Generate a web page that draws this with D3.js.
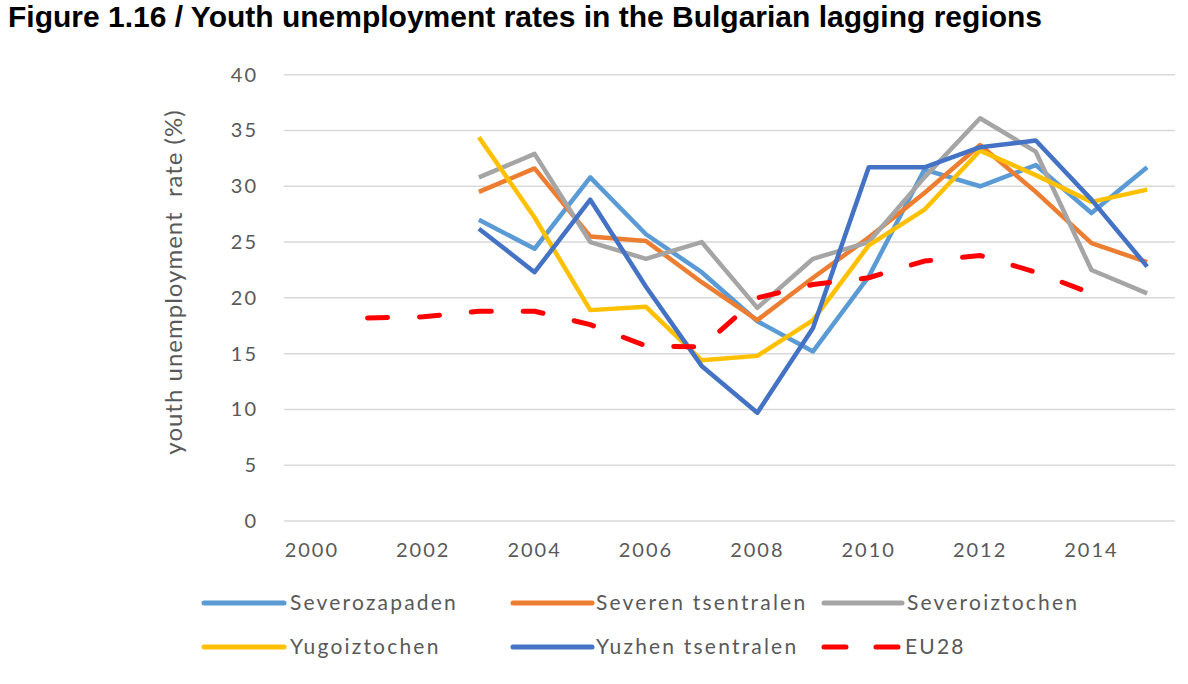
<!DOCTYPE html>
<meta charset="utf-8">
<style>
body { margin: 0; background: #fff; }
.tick text { fill: #595959; }
</style>
<body>
<script src="https://cdn.jsdelivr.net/npm/d3@7"></script>
<script>

// data (null = no value)
var years = d3.range(2000, 2016);
var tickYears = [2000, 2002, 2004, 2006, 2008, 2010, 2012, 2014];
var yTicks = [0, 5, 10, 15, 20, 25, 30, 35, 40];

var severozapaden      = [null, null, null, 27.0, 24.4, 30.8, 25.7, 22.3, 17.9, 15.2, 21.9, 31.5, 30.0, 31.9, 27.6, 31.7];
var severenTsentralen  = [null, null, null, 29.5, 31.6, 25.5, 25.1, 21.4, 18.0, 21.8, 25.4, 29.4, 33.7, 29.5, 24.9, 23.2];
var severoiztochen     = [null, null, null, 30.8, 32.9, 25.0, 23.5, 25.0, 19.1, 23.5, 25.0, 30.8, 36.1, 33.1, 22.5, 20.4];
var yugoiztochen       = [null, null, null, 34.4, 27.2, 18.9, 19.2, 14.4, 14.8, 18.0, 24.7, 27.9, 33.2, 31.0, 28.6, 29.7];
var yuzhenTsentralen   = [null, null, null, 26.2, 22.3, 28.8, 21.0, 13.9, 9.7, 17.3, 31.7, 31.7, 33.5, 34.1, 28.8, 22.8];
var eu28               = [null, 18.2, 18.3, 18.8, 18.8, 17.6, 15.7, 15.6, 20.0, 21.2, 21.8, 23.3, 23.8, 22.3, 20.4, null];

var seriesNames  = ["Severozapaden", "Severen tsentralen", "Severoiztochen", "Yugoiztochen", "Yuzhen tsentralen", "EU28"];
var seriesValues = [severozapaden, severenTsentralen, severoiztochen, yugoiztochen, yuzhenTsentralen, eu28];
var colors = ["#5B9BD5", "#ED7D31", "#A5A5A5", "#FFC000", "#4472C4", "#FF0000"];

var W = 1188, H = 684;
var svg = d3.select("body").append("svg").attr("width", W).attr("height", H);

svg.append("text")
    .attr("x", 8).attr("y", 27)
    .style("font-family", "Liberation Sans, Arial, sans-serif")
    .style("font-weight", "bold")
    .style("font-size", "30px")
    .text("Figure 1.16 / Youth unemployment rates in the Bulgarian lagging regions");

var x = d3.scaleBand().domain(years).range([284, 1175]);
var y = d3.scaleLinear().domain([0, 40]).range([521, 74.7]);

// grid
svg.append("g").selectAll("line")
    .data(yTicks).enter().append("line")
    .attr("x1", 284).attr("x2", 1175)
    .attr("y1", function(d) { return y(d); })
    .attr("y2", function(d) { return y(d); })
    .attr("stroke", "#d9d9d9")
    .attr("stroke-width", 1.5);

var font = "Lato, 'Open Sans', sans-serif";

// y axis
var yAxis = svg.append("g")
    .attr("transform", "translate(284,0)")
    .call(d3.axisLeft(y).tickValues(yTicks).tickSize(0).tickPadding(26));
yAxis.select(".domain").remove();
yAxis.selectAll("text").style("font-family", font).style("font-size", "20px").style("letter-spacing", "2px");

// x axis
var xAxis = svg.append("g")
    .attr("transform", "translate(0,521)")
    .call(d3.axisBottom(x).tickValues(tickYears).tickSize(0).tickPadding(22));
xAxis.select(".domain").remove();
xAxis.selectAll("text").style("font-family", font).style("font-size", "20px").style("letter-spacing", "2px");

svg.append("text")
    .attr("transform", "translate(182,282) rotate(-90)")
    .attr("text-anchor", "middle")
    .style("font-family", font)
    .style("font-size", "24px")
    .style("letter-spacing", "1px")
    .attr("fill", "#595959")
    .attr("xml:space", "preserve")
    .text("youth unemployment  rate (%)");

var line = d3.line()
    .defined(function(d) { return d.v != null; })
    .x(function(d) { return x(d.year) + x.bandwidth() / 2; })
    .y(function(d) { return y(d.v); });

seriesValues.forEach(function(vals, i) {
  var pts = years.map(function(yr, j) { return {year: yr, v: vals[j]}; });
  var path = svg.append("path")
      .datum(pts)
      .attr("fill", "none")
      .attr("stroke", colors[i])
      .attr("stroke-width", 4.5)
      .attr("stroke-linejoin", "round")
      .attr("d", line);
  if (seriesNames[i] == "EU28") {
    path.attr("stroke-dasharray", "20,32").attr("stroke-linecap", "round").attr("stroke-width", 5);
  }
});

// legend
var legendPos = [
  {lx: 204, lw: 80, tx: 290, ty: 603},
  {lx: 513, lw: 79, tx: 596, ty: 603},
  {lx: 824, lw: 78, tx: 907, ty: 603},
  {lx: 204, lw: 80, tx: 290, ty: 647},
  {lx: 513, lw: 79, tx: 596, ty: 647},
  {lx: 824, lw: 78, tx: 905, ty: 647}
];
var leg = svg.append("g");
seriesNames.forEach(function(name, i) {
  var p = legendPos[i];
  var l = leg.append("line")
      .attr("x1", p.lx).attr("x2", p.lx + p.lw)
      .attr("y1", p.ty).attr("y2", p.ty)
      .attr("stroke", colors[i])
      .attr("stroke-width", 5)
      .attr("stroke-linecap", "round");
  if (name == "EU28") l.attr("stroke-dasharray", "22,30");
  leg.append("text")
      .attr("x", p.tx).attr("y", p.ty)
      .attr("dy", "0.35em")
      .style("font-family", font)
      .style("font-size", "21px")
      .style("letter-spacing", "2.2px")
      .attr("fill", "#595959")
      .text(name);
});

</script>
</body>
